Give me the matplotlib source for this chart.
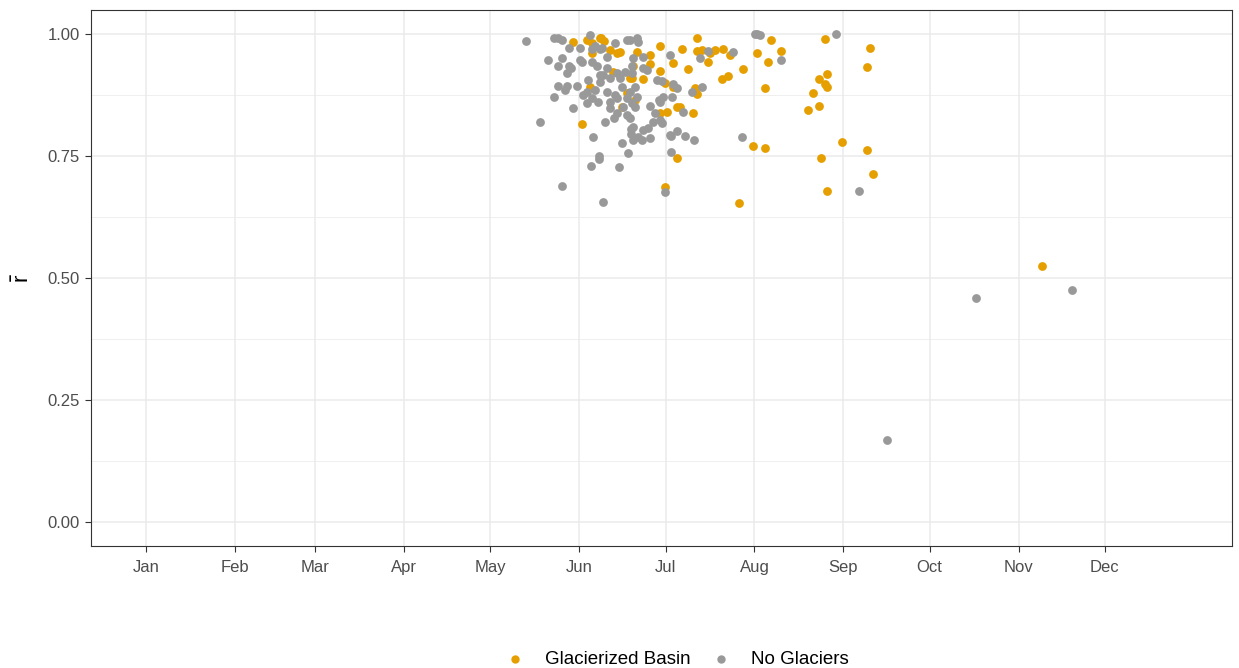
import matplotlib.pyplot as plt
import numpy as np

plt.rcParams['font.family'] = ['Liberation Sans', 'DejaVu Sans']

# day of year (0 = Jan 1) and mean correlation for each gauge record
glac_day = [152.0, 148.9, 153.8, 158.3, 158.6, 155.5, 154.8, 161.8, 164.2, 165.2,
            169.7, 162.8, 168.7, 167.7, 179.1, 191.9, 186.7, 191.9, 193.7, 196.5,
            198.2, 201.0, 203.4, 212.8, 183.6, 188.8, 195.8, 207.9, 202.7, 200.6,
            171.1, 175.6, 175.6, 179.1, 173.2, 169.4, 183.6, 191.3, 191.9, 185.0,
            186.0, 181.5, 179.1, 190.5, 170.4, 180.8, 217.6, 221.4, 216.6, 215.6,
            236.7, 237.4, 234.6, 236.7, 237.4, 232.5, 234.6, 230.5, 252.3, 251.3,
            211.4, 215.6, 235.3, 242.6, 251.3, 253.4, 237.4, 185.0, 180.8, 206.5,
            312.3, 165.9, 159.7, 155.5]
glac_r = [0.816, 0.984, 0.988, 0.992, 0.992, 0.961, 0.893, 0.967, 0.961, 0.963,
          0.936, 0.922, 0.910, 0.879, 0.977, 0.992, 0.969, 0.965, 0.967, 0.961,
          0.967, 0.971, 0.957, 0.961, 0.941, 0.928, 0.943, 0.928, 0.914, 0.908,
          0.963, 0.957, 0.939, 0.924, 0.908, 0.910, 0.891, 0.889, 0.877, 0.852,
          0.850, 0.840, 0.838, 0.838, 0.865, 0.900, 0.988, 0.965, 0.943, 0.889,
          0.990, 0.918, 0.908, 0.898, 0.891, 0.879, 0.854, 0.844, 0.973, 0.934,
          0.770, 0.766, 0.746, 0.779, 0.762, 0.713, 0.678, 0.746, 0.686, 0.654,
          0.525, 0.850, 0.986, 0.982]

nogl_day = [132.3, 137.1, 142.0, 143.7, 154.8, 147.2, 151.3, 155.5, 159.0, 163.5,
            168.7, 171.1, 140.2, 145.1, 143.7, 147.9, 146.8, 152.0, 155.5, 157.2,
            160.7, 158.3, 161.8, 165.2, 167.0, 169.4, 143.7, 146.8, 150.3, 154.1,
            153.8, 152.4, 156.6, 160.7, 163.5, 167.7, 171.1, 142.0, 146.1, 148.9,
            153.8, 157.6, 161.8, 164.2, 167.7, 160.0, 166.3, 161.8, 163.1, 155.9,
            165.9, 169.0, 169.0, 171.5, 157.9, 157.9, 155.2, 164.9, 168.0, 145.1,
            159.3, 185.0, 187.8, 190.9, 182.9, 172.9, 207.6, 182.9, 180.8, 248.5,
            182.6, 193.0, 195.8, 204.4, 212.8, 212.1, 213.8, 240.5, 221.4, 173.2,
            173.2, 174.6, 178.1, 179.8, 183.6, 185.0, 190.2, 193.7, 183.3, 180.1,
            179.1, 175.6, 177.4, 179.1, 176.7, 187.1, 170.4, 168.7, 170.4, 168.7,
            289.1, 322.7, 258.2, 167.7, 160.7, 159.3, 164.2, 158.3, 171.5, 169.7,
            164.2, 165.9, 155.5, 169.4, 178.8, 179.8, 174.9, 173.2, 169.7, 175.6,
            182.6, 169.7, 145.1, 156.6, 158.3, 151.3, 147.2, 169.4]
nogl_r = [0.986, 0.820, 0.992, 0.992, 0.998, 0.973, 0.973, 0.971, 0.973, 0.982,
          0.988, 0.992, 0.947, 0.951, 0.936, 0.930, 0.920, 0.943, 0.943, 0.936,
          0.953, 0.916, 0.910, 0.910, 0.922, 0.920, 0.895, 0.895, 0.895, 0.906,
          0.881, 0.875, 0.885, 0.881, 0.875, 0.869, 0.871, 0.871, 0.885, 0.848,
          0.859, 0.861, 0.861, 0.838, 0.834, 0.820, 0.850, 0.848, 0.828, 0.789,
          0.777, 0.805, 0.795, 0.789, 0.750, 0.744, 0.730, 0.727, 0.756, 0.689,
          0.656, 0.801, 0.791, 0.783, 0.791, 0.783, 0.789, 0.758, 0.676, 0.678,
          0.957, 0.951, 0.965, 0.963, 1.000, 1.000, 0.998, 1.000, 0.947, 0.953,
          0.930, 0.926, 0.906, 0.904, 0.898, 0.889, 0.881, 0.891, 0.871, 0.871,
          0.861, 0.854, 0.838, 0.824, 0.820, 0.840, 0.891, 0.881, 0.850, 0.828,
          0.459, 0.475, 0.168, 0.988, 0.930, 0.916, 0.920, 0.902, 0.984, 0.951,
          0.869, 0.891, 0.869, 0.859, 0.865, 0.818, 0.807, 0.803, 0.809, 0.787,
          0.793, 0.783, 0.988, 0.977, 0.971, 0.947, 0.936, 0.936]

month_start = [0, 31, 59, 90, 120, 151, 181, 212, 243, 273, 304, 334]
month_names = ['Jan', 'Feb', 'Mar', 'Apr', 'May', 'Jun',
               'Jul', 'Aug', 'Sep', 'Oct', 'Nov', 'Dec']

col_glac = '#E69F00'
col_nogl = '#999999'

fig = plt.figure(figsize=(12.39, 6.68), dpi=100)
ax = fig.add_axes([0.0734, 0.1826, 0.921, 0.8024])

ax.scatter(glac_day, glac_r, s=40, color=col_glac, linewidths=0, zorder=3,
           label='Glacierized Basin')
ax.scatter(nogl_day, nogl_r, s=40, color=col_nogl, linewidths=0, zorder=3,
           label='No Glaciers')

ax.set_xlim(-19.2, 378.4)
ax.set_ylim(-0.05, 1.05)

ax.set_xticks(month_start)
ax.set_xticklabels(month_names)
ax.set_yticks([0, 0.25, 0.5, 0.75, 1.0])
ax.set_yticklabels(['0.00', '0.25', '0.50', '0.75', '1.00'])
ax.set_yticks([0.125, 0.375, 0.625, 0.875], minor=True)

ax.grid(True, which='major', color='#EBEBEB', linewidth=1.1, zorder=0)
ax.grid(True, which='minor', axis='y', color='#EBEBEB', linewidth=0.55, zorder=0)
ax.set_axisbelow(True)

ax.tick_params(axis='both', which='major', length=4, width=0.8, color='#333333',
               labelcolor='#4D4D4D', labelsize=12)
ax.tick_params(axis='x', which='major', pad=6)
ax.tick_params(axis='y', which='major', pad=4)
ax.tick_params(axis='both', which='minor', length=0)
for sp in ax.spines.values():
    sp.set_color('#333333')
    sp.set_linewidth(0.8)

ax.set_ylabel(r'$\bar{\mathregular{r}}$', fontsize=16, labelpad=10)

fig.legend(loc='center', bbox_to_anchor=(0.546, 0.013), ncol=2, frameon=False,
           fontsize=13.5, markerscale=0.95, handlelength=1.2, handletextpad=1.0,
           columnspacing=1.0)

fig.savefig('out.png', dpi=100)
